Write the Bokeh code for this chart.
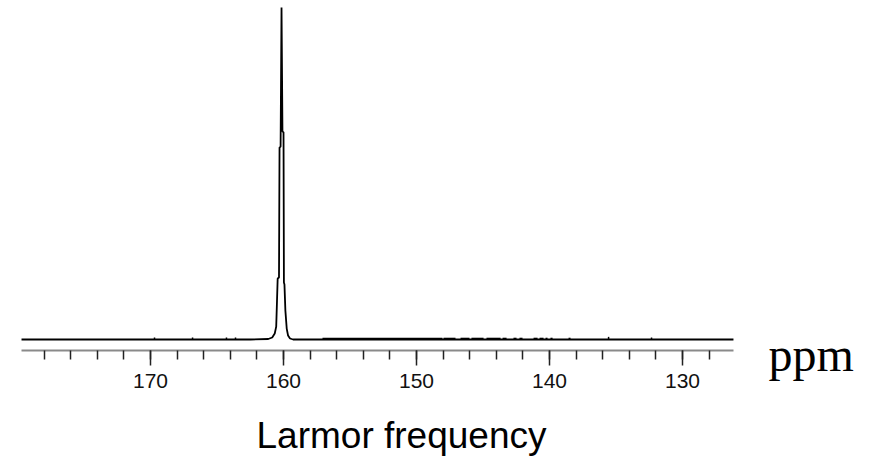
from bokeh.plotting import figure
from bokeh.models import Range1d, SingleIntervalTicker, Label, LinearAxis
from bokeh.embed import file_html
from bokeh.resources import INLINE

# ---- data ----
peak_ppm = [179.70, 162.48, 161.15, 160.85, 160.66, 160.55, 160.49, 160.44, 160.34,
            160.30, 160.22, 160.15, 160.08, 160.00, 159.97, 159.93, 159.86, 159.76,
            159.66, 159.51, 159.28, 126.17]
peak_int = [0.0, 0.0, 0.0015, 0.006, 0.018, 0.039, 0.117, 0.184, 0.187,
            0.578, 0.581, 1.000, 0.627, 0.624, 0.172, 0.166, 0.087, 0.033,
            0.012, 0.003, 0.0, 0.0]

# thickened (noisy) stretches of the baseline, ppm
band_start = [157.07, 147.97, 146.69, 145.87, 144.74, 143.53, 142.71, 142.26,
              141.20, 140.75, 140.30, 139.93, 138.57]
band_end = [148.05, 147.07, 146.02, 144.96, 143.68, 143.23, 142.48, 142.03,
            140.90, 140.45, 140.15, 139.77, 138.42]
# isolated noise blips, ppm
blip_ppm = [169.70, 166.84, 164.29, 163.61, 135.56, 132.33]
blip_h = [0.006, 0.006, 0.006, 0.006, 0.008, 0.006]

axis_start, axis_end = 179.70, 126.17
tick_interval = 10

p = figure(width=877, height=475, output_backend="svg", toolbar_location=None,
           x_range=Range1d(181.28, 115.34), y_range=Range1d(-0.4096, 1.0211),
           x_axis_location=None, y_axis_location=None,
           min_border_left=0, min_border_right=0, min_border_top=0,
           min_border_bottom=0)
p.outline_line_color = None
p.xgrid.visible = False
p.ygrid.visible = False
p.background_fill_color = "white"
p.border_fill_color = "white"

ax = LinearAxis(fixed_location=-0.0331, bounds=(axis_start, axis_end))
ax.ticker = SingleIntervalTicker(interval=tick_interval, num_minor_ticks=5)
ax.axis_line_color = "#8a8a8a"
ax.axis_line_width = 2
ax.major_tick_line_color = "#222222"
ax.minor_tick_line_color = "#222222"
ax.major_tick_line_width = 1.5
ax.minor_tick_line_width = 1.5
ax.major_tick_out = 15
ax.major_tick_in = 0
ax.minor_tick_out = 9
ax.minor_tick_in = 0
ax.major_label_standoff = 8
ax.major_label_text_font = "Liberation Sans"
ax.major_label_text_font_size = "21px"
ax.major_label_text_color = "#111111"
p.add_layout(ax, "below")

p.line(peak_ppm, peak_int, line_color="black", line_width=1.8)
p.segment(x0=band_start, y0=[0.003] * len(band_start), x1=band_end,
          y1=[0.003] * len(band_end), line_color="black", line_width=1.6)
p.segment(x0=blip_ppm, y0=[0.0] * len(blip_ppm), x1=blip_ppm, y1=blip_h,
          line_color="black", line_width=1.5)

p.add_layout(Label(x=123.53, y=-0.0451, text="ppm", text_font="Liberation Serif",
                   text_font_size="48px", text_color="black",
                   text_baseline="alphabetic", text_align="left"))
p.add_layout(Label(x=151.13, y=-0.2891, text="Larmor frequency",
                   text_font="Liberation Sans", text_font_size="37px",
                   text_color="black", text_baseline="alphabetic",
                   text_align="center"))

open("out.html", "w").write(file_html(p, INLINE))
